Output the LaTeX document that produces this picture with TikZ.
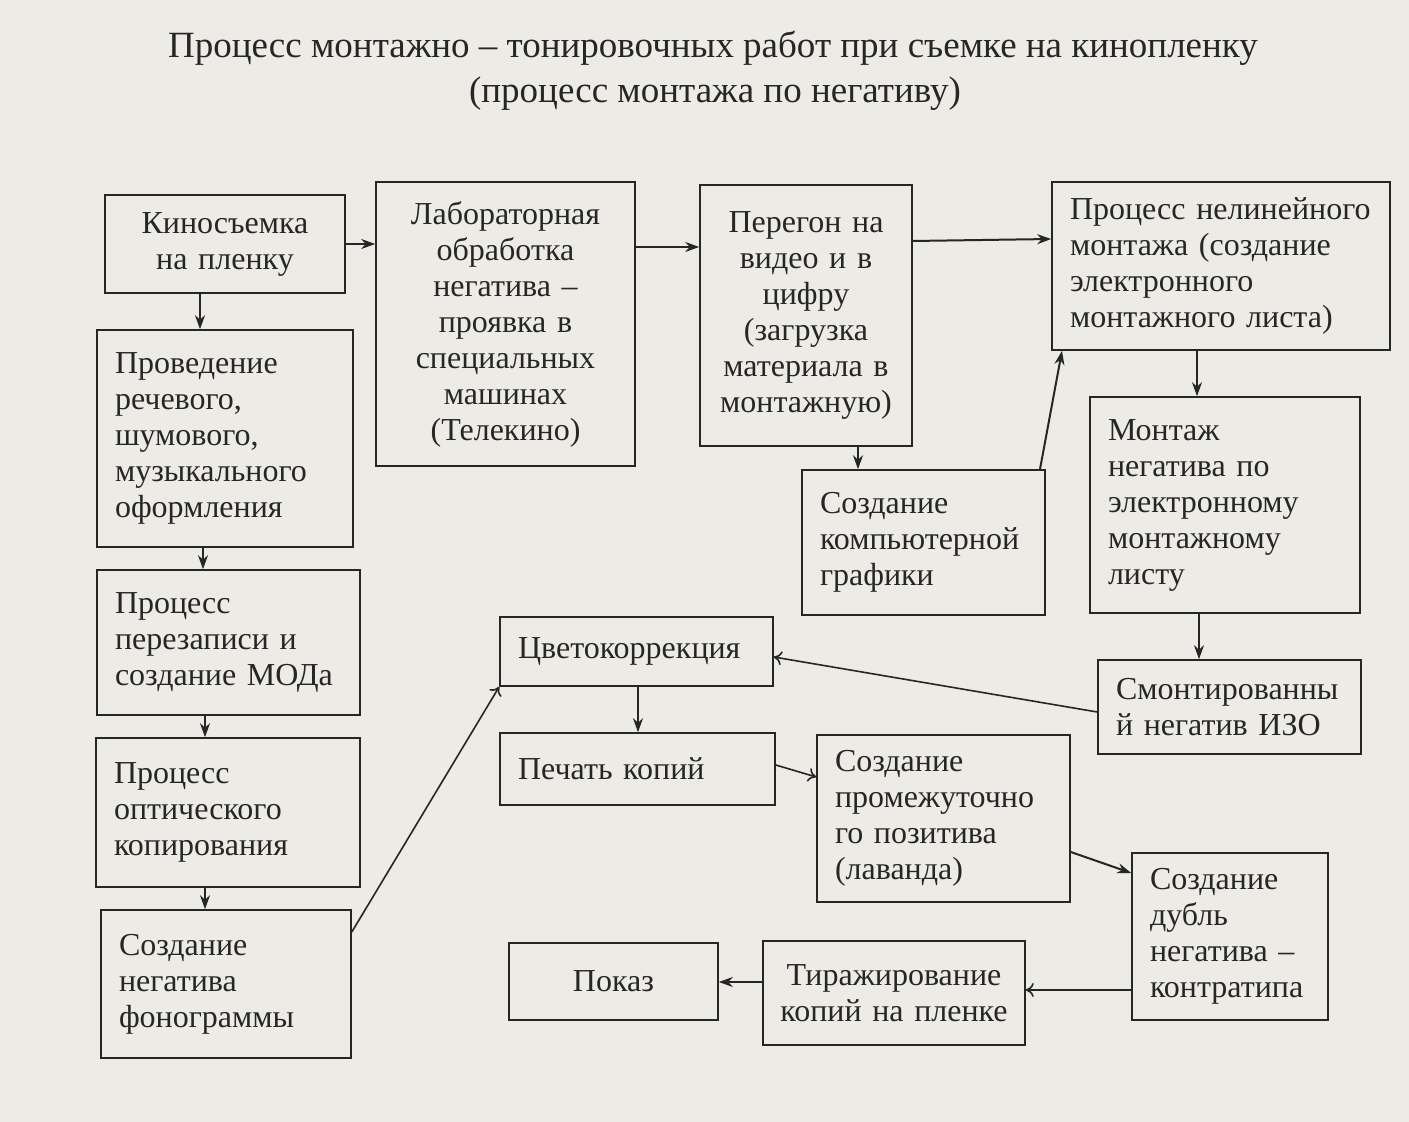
\documentclass[tikz,border=0pt]{standalone}
\usepackage{fontspec}
\setmainfont{Liberation Serif}
\usetikzlibrary{arrows.meta}
\begin{document}
\begin{tikzpicture}[x=0.5pt,y=-0.5pt,
  box/.style={draw=ink,line width=0.8pt,rectangle,inner xsep=9pt,inner ysep=0pt,text=ink,font=\fontsize{16}{18}\selectfont},
  lbox/.style={box,align=left},
  cbox/.style={box,align=center},
  arr/.style={draw=ink,line width=1pt,-{Stealth[length=7pt,width=5pt]}},
  oarr/.style={draw=ink,line width=0.8pt,-{To[length=4pt,width=7pt]}}]
\definecolor{bg}{HTML}{EDEBE6}
\definecolor{ink}{HTML}{262626}
\fill[bg] (0,0) rectangle (1409,1122);
\useasboundingbox (0,0) rectangle (1409,1122);
\node[text=ink,font=\fontsize{18.5}{21}\selectfont] (title) at (713,48) {Процесс монтажно – тонировочных работ при съемке на кинопленку};
\node[text=ink,font=\fontsize{18.5}{21}\selectfont] (subtitle) at (715,94) {(процесс монтажа по негативу)};
\node[cbox,minimum width=120pt,minimum height=49pt,text width=102pt] (kino) at (225,244) {Киносъемка\\на пленку};
\node[cbox,minimum width=129.5pt,minimum height=142pt,text width=111.5pt] (lab) at (505.5,324) {Лабораторная\\обработка\\негатива –\\проявка в\\специальных\\машинах\\(Телекино)};
\node[cbox,minimum width=106pt,minimum height=130.5pt,text width=88pt] (pereg) at (806,315.5) {Перегон на\\видео и в\\цифру\\(загрузка\\материала в\\монтажную)};
\node[lbox,minimum width=169pt,minimum height=84pt,text width=151pt] (nelin) at (1221,266) {Процесс нелинейного\\монтажа (создание\\электронного\\монтажного листа)};
\node[lbox,minimum width=128pt,minimum height=108.5pt,text width=110pt] (rech) at (225,438.5) {Проведение\\речевого,\\шумового,\\музыкального\\оформления};
\node[lbox,minimum width=121.5pt,minimum height=72.5pt,text width=103.5pt] (komp) at (923.5,542.5) {Создание\\компьютерной\\графики};
\node[lbox,minimum width=135pt,minimum height=108pt,text width=117pt] (mont) at (1225,505) {Монтаж\\негатива по\\электронному\\монтажному\\листу};
\node[lbox,minimum width=131.5pt,minimum height=72.5pt,text width=113.5pt] (perez) at (228.5,642.5) {Процесс\\перезаписи и\\создание МОДа};
\node[lbox,minimum width=136.5pt,minimum height=34.5pt,text width=118.5pt] (cvet) at (636.5,651.5) {Цветокоррекция};
\node[lbox,minimum width=131.5pt,minimum height=47pt,text width=113.5pt] (smont) at (1229.5,707) {Смонтированны\\й негатив ИЗО};
\node[lbox,minimum width=132pt,minimum height=74.5pt,text width=114pt] (opt) at (228,812.5) {Процесс\\оптического\\копирования};
\node[lbox,minimum width=137.5pt,minimum height=36pt,text width=119.5pt] (pech) at (637.5,769) {Печать копий};
\node[lbox,minimum width=126.5pt,minimum height=83.5pt,text width=108.5pt] (lav) at (943.5,818.5) {Создание\\промежуточно\\го позитива\\(лаванда)};
\node[lbox,minimum width=98pt,minimum height=83.5pt,text width=80pt] (dubl) at (1230,936.5) {Создание\\дубль\\негатива –\\контратипа};
\node[lbox,minimum width=125pt,minimum height=74pt,text width=107pt] (fono) at (226,984) {Создание\\негатива\\фонограммы};
\node[cbox,minimum width=104.5pt,minimum height=38.5pt,text width=86.5pt] (pokaz) at (613.5,981.5) {Показ};
\node[cbox,inner xsep=3pt,minimum width=131pt,minimum height=52pt,text width=125pt] (tiraz) at (894,993) {Тиражирование\\копий на пленке};
\draw[arr] (kino.east) -- (kino.east -| lab.west);
\draw[arr] (lab.east |- 0,247) -- (pereg.west |- 0,247);
\draw[arr] (pereg.east |- 0,241) -- (nelin.west |- 0,239);
\draw[arr] (kino.south -| 200,0) -- (rech.north -| 200,0);
\draw[arr] (rech.south -| 203,0) -- (perez.north -| 203,0);
\draw[arr] (perez.south -| 205,0) -- (opt.north -| 205,0);
\draw[arr] (opt.south -| 205,0) -- (fono.north -| 205,0);
\draw[oarr] (fono.east |- 0,932) -- (cvet.south west);
\draw[arr] (pereg.south -| 858,0) -- (komp.north -| 858,0);
\draw[arr] (komp.north -| 1040,0) -- (nelin.south -| 1062,0);
\draw[arr] (nelin.south -| 1197,0) -- (mont.north -| 1197,0);
\draw[arr] (mont.south -| 1199,0) -- (smont.north -| 1199,0);
\draw[oarr] (smont.west |- 0,712) -- (cvet.east |- 0,657);
\draw[arr] (cvet.south -| 638,0) -- (pech.north -| 638,0);
\draw[oarr] (pech.east |- 0,765) -- (lav.west |- 0,777);
\draw[arr] (lav.east |- 0,852) -- (dubl.west |- 0,873);
\draw[oarr] (dubl.west |- 0,990) -- (tiraz.east |- 0,990);
\draw[arr] (tiraz.west |- 0,982) -- (pokaz.east |- 0,982);
\end{tikzpicture}
\end{document}
